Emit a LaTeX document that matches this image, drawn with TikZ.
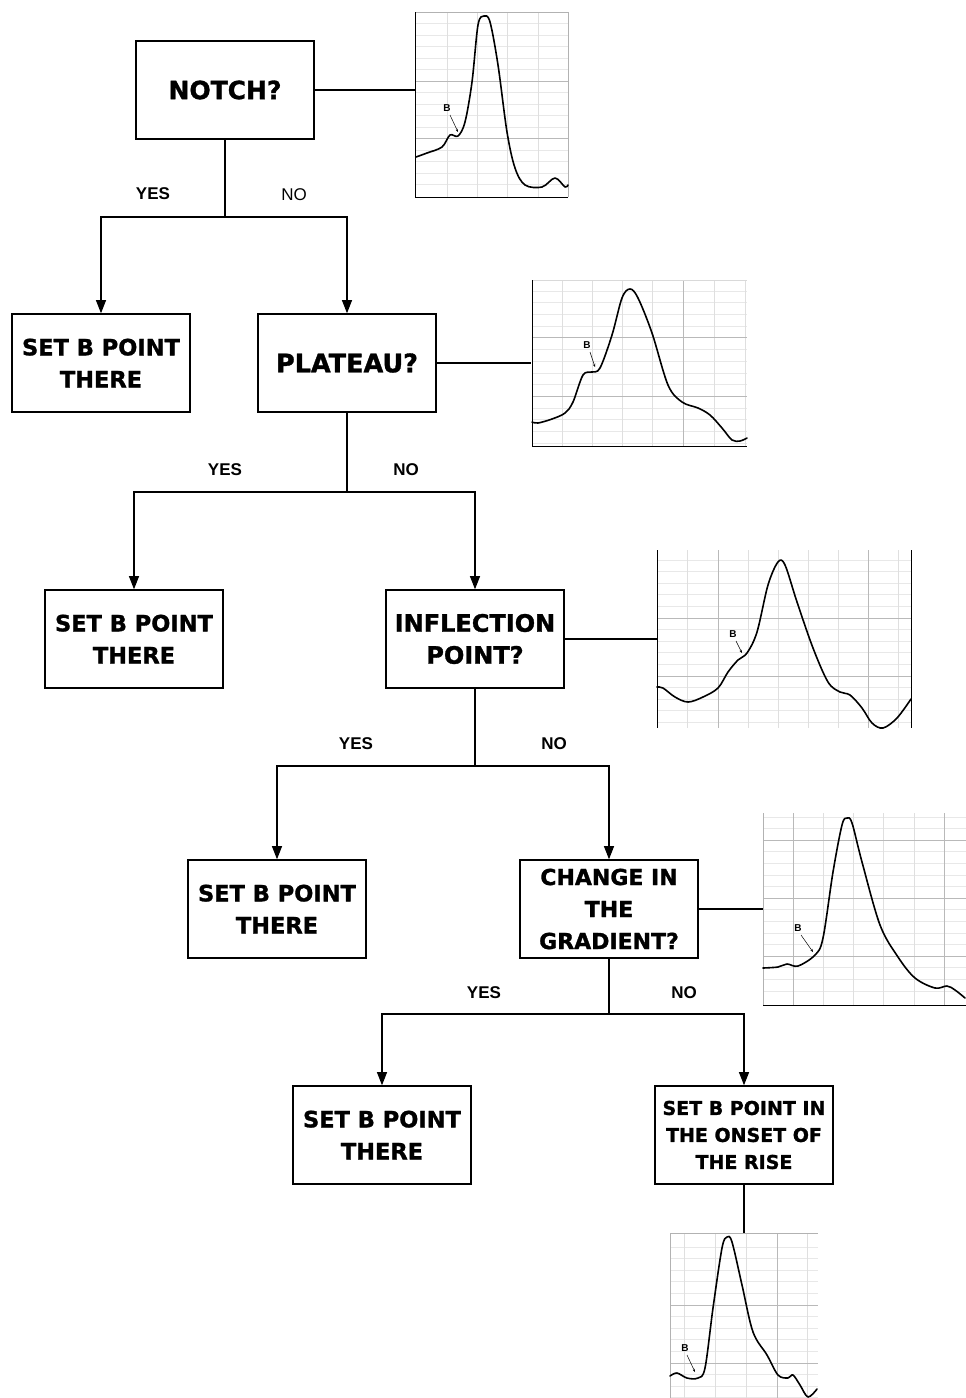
\documentclass[tikz,border=0pt]{standalone}
\usepackage{fontspec}
\setmainfont{Liberation Sans}
\newfontfamily\boxfont{DejaVu Sans}[BoldFeatures={FakeBold=1.3}]
\usetikzlibrary{arrows.meta}
\begin{document}
\begin{tikzpicture}[x=1pt,y=-1pt,
 qbox/.style={draw, line width=1.6pt, minimum width=178pt, minimum height=98pt, inner sep=0pt, align=center},
 conn/.style={line width=1.1pt},
 arr/.style={conn, -{Triangle[length=13pt,width=10pt]}},
 lab/.style={font=\fontsize{17}{20}\selectfont\bfseries},
 labr/.style={font=\fontsize{17}{20}\selectfont},
 minorg/.style={gray!18, line width=0.7pt},
 vertg/.style={gray!25, line width=0.7pt},
 majorg/.style={gray!55, line width=0.8pt},
 frame/.style={black, line width=1pt},
 wave/.style={line width=1.6pt, line join=round, line cap=round},
 blab/.style={font=\fontsize{10}{12}\selectfont\bfseries, inner sep=0pt},
 barr/.style={line width=0.5pt, -{Stealth[length=3pt,width=2.5pt]}}
]
\useasboundingbox (0,0) rectangle (966,1398);

% ---------------- boxes ----------------
\node[qbox, font=\boxfont\bfseries\fontsize{25}{32}\selectfont] (notch) at (225,90) {NOTCH?};
\node[qbox, font=\boxfont\bfseries\fontsize{22.5}{32}\selectfont] (set1) at (101,363) {SET B POINT\\THERE};
\node[qbox, font=\boxfont\bfseries\fontsize{25.5}{32}\selectfont] (plat) at (347,363) {PLATEAU?};
\node[qbox, font=\boxfont\bfseries\fontsize{22.5}{32}\selectfont] (set2) at (134,639) {SET B POINT\\THERE};
\node[qbox, font=\boxfont\bfseries\fontsize{24}{32}\selectfont] (infl) at (475,639) {INFLECTION\\POINT?};
\node[qbox, font=\boxfont\bfseries\fontsize{22.5}{32}\selectfont] (set3) at (277,909) {SET B POINT\\THERE};
\node[qbox, font=\boxfont\bfseries\fontsize{22}{32}\selectfont] (chg) at (609,909) {CHANGE IN\\THE\\GRADIENT?};
\node[qbox, font=\boxfont\bfseries\fontsize{22.5}{32}\selectfont] (set4) at (382,1135) {SET B POINT\\THERE};
\node[qbox, font=\boxfont\bfseries\fontsize{19}{27}\selectfont] (onset) at (744,1135) {SET B POINT IN\\THE ONSET OF\\THE RISE};

% ---------------- junctions ----------------
\coordinate (j1) at (225,217);
\coordinate (j2) at (347,492);
\coordinate (j3) at (475,766);
\coordinate (j4) at (609,1014);

\draw[conn] (notch.south) -- (j1);
\draw[arr] (j1) -| (set1.north);
\draw[arr] (j1) -| (plat.north);
\draw[conn] (plat.south) -- (j2);
\draw[arr] (j2) -| (set2.north);
\draw[arr] (j2) -| (infl.north);
\draw[conn] (infl.south) -- (j3);
\draw[arr] (j3) -| (set3.north);
\draw[arr] (j3) -| (chg.north);
\draw[conn] (chg.south) -- (j4);
\draw[arr] (j4) -| (set4.north);
\draw[arr] (j4) -| (onset.north);

\node[lab] (y1) at (153,194) {YES};
\node[labr] (n1) at (294,195) {NO};
\node[lab] (y2) at (225,470) {YES};
\node[lab] (n2) at (406,470) {NO};
\node[lab] (y3) at (356,744) {YES};
\node[lab] (n3) at (554,744) {NO};
\node[lab] (y4) at (484,993) {YES};
\node[lab] (n4) at (684,993) {NO};

% ---------------- chart 1 ----------------
\foreach \i in {0,...,14} \draw[minorg] (415,23.5+11.5*\i) -- (568,23.5+11.5*\i);
\foreach \x in {447,477,507,538} \draw[vertg] (\x,12) -- (\x,197);
\foreach \y in {81,138.5} \draw[majorg] (415,\y) -- (568,\y);
\draw[gray!60, line width=0.8pt] (415,12) -- (568,12) -- (568,197);
\draw[frame] (415,12) -- (415,197) -- (568,197);
\draw[wave] plot[smooth, tension=0.55] coordinates {(416,157) (427,153) (442,147) (450,135) (458,136) (465,122) (472,82) (478,25) (484,16) (490,22) (498,65) (507,132) (515,168) (525,185) (542,187) (555,178) (565,187) (568,185)};
\node[blab] (b1) at (447,108) {B};
\draw[barr] (450,115) -- (458,132);
\coordinate (c1) at (415,90);
\draw[conn] (notch.east) -- (c1);

% ---------------- chart 2 ----------------
\foreach \i in {0,...,13} \draw[minorg] (532,291+11.7*\i) -- (747,291+11.7*\i);
\foreach \x in {562,592,622,652,714,745} \draw[vertg] (\x,280) -- (\x,446);
\draw[majorg] (683,280) -- (683,446);
\foreach \y in {337.8,396.3} \draw[majorg] (532,\y) -- (747,\y);
\draw[gray!30, line width=0.7pt] (532,280) -- (747,280);
\draw[frame] (532,280) -- (532,446) -- (747,446);
\draw[wave] plot[smooth, tension=0.55] coordinates {(532,422) (538,423) (552,419) (565,413) (573,402) (583,375) (592,372) (600,368) (612,335) (622,298) (630,289) (638,298) (652,333) (668,385) (682,402) (698,408) (710,415) (722,428) (732,440) (740,441) (747,438)};
\node[blab] (b2) at (587,345) {B};
\draw[barr] (590,352) -- (595,367);
\coordinate (c2) at (531,363);
\draw[conn] (plat.east) -- (c2);

% ---------------- chart 3 ----------------
\foreach \i in {0,...,14} \draw[minorg] (657,560+11.6*\i) -- (911,560+11.6*\i);
\foreach \x in {687,748,778,808,838,898} \draw[vertg] (\x,550) -- (\x,728);
\foreach \x in {718,868} \draw[majorg] (\x,550) -- (\x,728);
\foreach \y in {618,676} \draw[majorg] (657,\y) -- (911,\y);
\draw[frame] (657,550) -- (657,728);
\draw[frame] (911,550) -- (911,728);
\draw[wave] plot[smooth, tension=0.55] coordinates {(657,687) (663,688) (675,697) (688,702) (703,697) (718,688) (728,672) (738,660) (747,653) (757,632) (768,585) (778,562) (785,565) (797,602) (813,648) (828,682) (840,692) (850,695) (862,708) (872,723) (883,728) (897,718) (911,699)};
\node[blab] (b3) at (733,634) {B};
\draw[barr] (736,641) -- (742,653);
\coordinate (c3) at (657,639);
\draw[conn] (infl.east) -- (c3);

% ---------------- chart 4 ----------------
\foreach \i in {0,...,15} \draw[minorg] (763,817+11.6*\i) -- (966,817+11.6*\i);
\foreach \x in {823,853,883,914} \draw[vertg] (\x,813) -- (\x,1005);
\foreach \x in {793,944} \draw[majorg] (\x,813) -- (\x,1005);
\foreach \y in {840,898,956} \draw[majorg] (763,\y) -- (966,\y);
\draw[gray!60, line width=0.9pt] (763,813) -- (763,1005);
\draw[frame] (763,1005) -- (966,1005);
\draw[wave] plot[smooth, tension=0.55] coordinates {(763,968) (778,967) (787,964) (798,966) (815,955) (823,938) (833,872) (842,825) (847,818) (852,823) (862,862) (880,925) (898,957) (915,978) (935,988) (947,986) (955,990) (965,998)};
\node[blab] (b4) at (798,928) {B};
\draw[barr] (801,935) -- (813,952);
\coordinate (c4) at (763,909);
\draw[conn] (chg.east) -- (c4);

% ---------------- chart 5 ----------------
\foreach \i in {0,...,13} \draw[minorg] (670,1247+11.6*\i) -- (818,1247+11.6*\i);
\foreach \x in {684,715,746,807} \draw[vertg] (\x,1233) -- (\x,1398);
\draw[majorg] (777,1233) -- (777,1398);
\foreach \y in {1305,1363} \draw[majorg] (670,\y) -- (818,\y);
\draw[gray!60, line width=0.9pt] (670,1398) -- (670,1233) -- (818,1233);
\draw[wave] plot[smooth, tension=0.55] coordinates {(670,1376) (677,1373) (687,1378) (698,1378) (705,1368) (713,1308) (722,1248) (727,1237) (732,1242) (742,1285) (753,1332) (767,1355) (778,1375) (788,1378) (793,1375) (800,1385) (808,1397) (817,1389)};
\node[blab] (b5) at (685,1348) {B};
\draw[barr] (687,1355) -- (695,1372);
\coordinate (c5) at (744,1233);
\draw[conn] (onset.south) -- (c5);

\end{tikzpicture}
\end{document}
